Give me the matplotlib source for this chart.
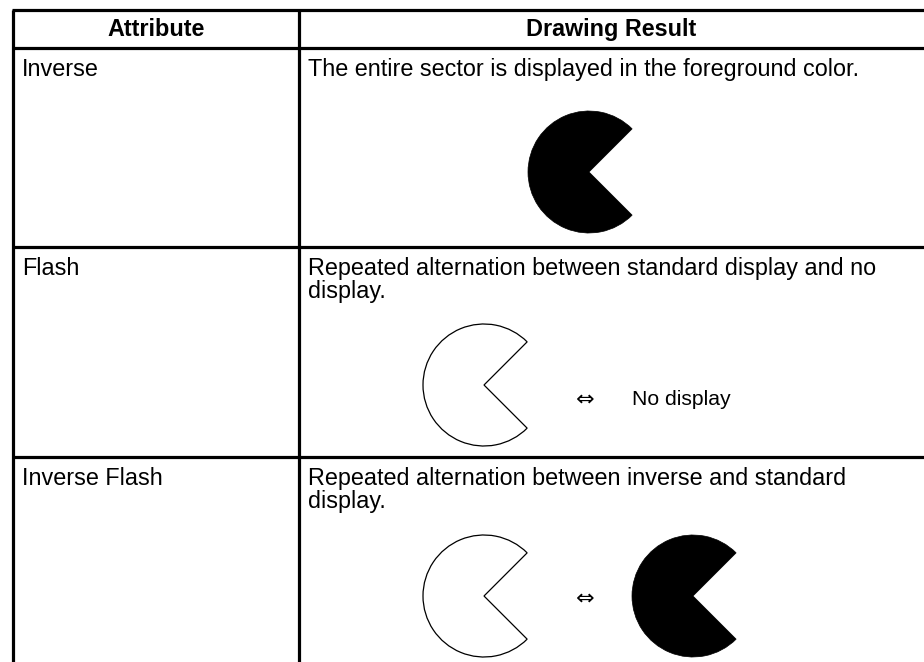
import matplotlib
matplotlib.use("Agg")
import matplotlib.pyplot as plt
from matplotlib.patches import Wedge

plt.rcParams['font.family'] = ['Liberation Sans', 'DejaVu Sans']

# table content
headers = ["Attribute", "Drawing Result"]
attributes = ["Inverse", "Flash", "Inverse Flash"]
descriptions = [
    "The entire sector is displayed in the foreground color.",
    "Repeated alternation between standard display and no\ndisplay.",
    "Repeated alternation between inverse and standard\ndisplay.",
]
# what is drawn in each row: first state, second state (None = nothing)
first_state = ["filled", "outline", "outline"]
second_state = [None, "No display", "filled"]

# layout in pixels
W, H = 924, 662
left_x, mid_x, right_x = 13, 299, 924
top_y = 10
row_lines = [48, 247, 457]
pac_cy = [172, 385, 596]
arrow_y = [None, 400, 599]
pac_r = 61

fig = plt.figure(figsize=(W / 100, H / 100), dpi=100)
ax = fig.add_axes([0, 0, 1, 1])
ax.set_xlim(0, W)
ax.set_ylim(H, 0)
ax.axis('off')

lw = 2.3
# horizontal rules
ax.plot([left_x - 1, right_x], [top_y, top_y], color='black', lw=lw, solid_capstyle='butt')
for y in row_lines:
    ax.plot([left_x - 1, right_x], [y, y], color='black', lw=lw, solid_capstyle='butt')
# vertical rules
for x in [left_x, mid_x]:
    ax.plot([x, x], [top_y, H], color='black', lw=lw, solid_capstyle='butt')

fs = 16.8
ax.text((left_x + mid_x) / 2, 36, headers[0], ha='center', va='baseline', fontsize=fs, fontweight='bold')
ax.text((mid_x + right_x) / 2, 36, headers[1], ha='center', va='baseline', fontsize=fs, fontweight='bold')


def pacman(cx, cy, kind):
    if kind == "filled":
        w = Wedge((cx, cy), pac_r, 45, 315, facecolor='black', edgecolor='black', lw=0.5)
    else:
        w = Wedge((cx, cy), pac_r, 45, 315, facecolor='white', edgecolor='black', lw=0.9)
    ax.add_patch(w)


for i in range(len(attributes)):
    base = row_lines[i] + 28
    ax.text(left_x + 9, base, attributes[i], ha='left', va='baseline', fontsize=fs)
    for k, line in enumerate(descriptions[i].split("\n")):
        ax.text(mid_x + 9, base + 23 * k, line, ha='left', va='baseline', fontsize=fs)
    cy = pac_cy[i]
    if second_state[i] is None:
        pacman(589, cy, first_state[i])
    else:
        pacman(484, cy, first_state[i])
        ax.text(585, arrow_y[i], "\u21d4", ha='center', va='center', fontsize=16,
                family=['DejaVu Sans'])
        if second_state[i] == "filled":
            pacman(693, cy, "filled")
        else:
            ax.text(632, arrow_y[i] + 5, second_state[i], ha='left', va='baseline', fontsize=15.2)

fig.savefig("out.png", dpi=100)
